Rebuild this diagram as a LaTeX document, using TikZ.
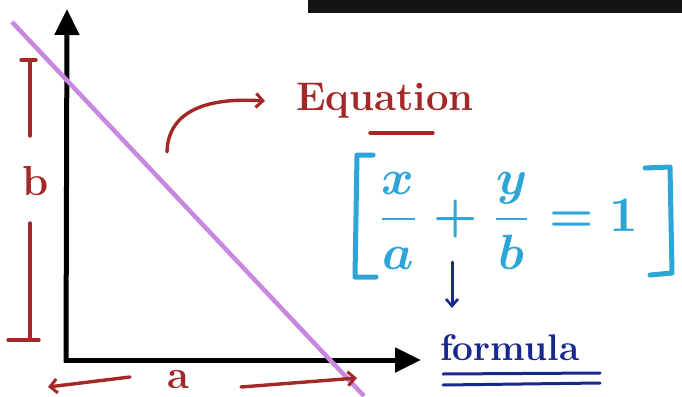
\documentclass[tikz,border=0pt]{standalone}
\usetikzlibrary{arrows.meta}
\definecolor{penred}{RGB}{165,40,40}
\definecolor{penblue}{RGB}{45,165,215}
\definecolor{pennavy}{RGB}{25,40,140}
\definecolor{violetline}{RGB}{200,135,225}
\begin{document}
\begin{tikzpicture}[x=1pt,y=-1pt,
  redpen/.style={draw=penred,line width=3.4pt,line cap=round},
  bluepen/.style={draw=penblue,line width=5pt,line cap=round,line join=round},
  navypen/.style={draw=pennavy,line width=3pt,line cap=round},
  axis/.style={draw=black,line width=5pt,-{Triangle[length=26pt,width=24pt]}},
  redtip/.style={-{Straight Barb[length=7pt,width=14pt,line width=3pt]}},
  navytip/.style={-{Straight Barb[length=7pt,width=12pt,line width=2.6pt]}}]
\useasboundingbox (0,0) rectangle (682,396);
\fill[white] (0,0) rectangle (682,396);
\fill[black!92] (308,0) rectangle (682,13);
% axes
\coordinate (O) at (66,360);
\coordinate (ytip) at (67,9);
\coordinate (xtip) at (421,360);
\draw[axis] (66,362.5) -- (ytip);
\draw[axis] (63.5,360) -- (xtip);
% line
\coordinate (lstart) at (12,22);
\coordinate (lend) at (364,396);
\begin{scope}
\clip (0,0) rectangle (682,396);
\draw[violetline,line width=4.5pt] (lstart) -- (lend);
\end{scope}
% b dimension
\node[text=penred,font=\bfseries\fontsize{42}{42}\selectfont] (bl) at (36,181) {b};
\draw[redpen] (21,60) -- (36,60);
\draw[redpen] (30,60) -- (30,136);
\draw[redpen] (30,223) -- (30,340);
\draw[redpen] (8,340) -- (39,340);
% a dimension
\node[text=penred,font=\bfseries\fontsize{40}{40}\selectfont,anchor=base,inner sep=0pt] (al) at (178,388) {a};
\coordinate (aL) at (130,377);
\coordinate (aLtip) at (48,387);
\coordinate (aR) at (241,387);
\coordinate (aRtip) at (357,378);
\draw[redpen,redtip] (aL) -- (aLtip);
\draw[redpen,redtip] (aR) -- (aRtip);
% Equation label
\node[text=penred,font=\bfseries\fontsize{40}{40}\selectfont,anchor=base west,inner sep=0pt] (eqlabel) at (296,110) {Equation};
\draw[redpen] (370,133) -- (433,133);
\coordinate (cstart) at (167,152);
\coordinate (ctip) at (265,101);
\draw[redpen,redtip] (cstart) .. controls (168,112) and (205,97) .. (ctip);
% equation
\node[text=penblue,inner sep=0pt] (eq) at (507,221) {\resizebox{262pt}{!}{\boldmath$\displaystyle\frac{x}{a}+\frac{y}{b}=1$}};
\draw[bluepen] (373,155) -- (357,155) -- (355,277) -- (376,277);
\draw[bluepen] (645,168) -- (670,167) -- (672,273) -- (650,275);
% formula
\node[text=pennavy,font=\bfseries\fontsize{37}{37}\selectfont,anchor=base west,inner sep=0pt] (formula) at (440,360) {formula};
\coordinate (dstart) at (452,262);
\coordinate (dtip) at (452,308);
\draw[navypen,navytip] (dstart) -- (dtip);
\draw[navypen] (443,374) -- (600,373);
\draw[navypen] (443,385) -- (600,383);
\end{tikzpicture}
\end{document}
